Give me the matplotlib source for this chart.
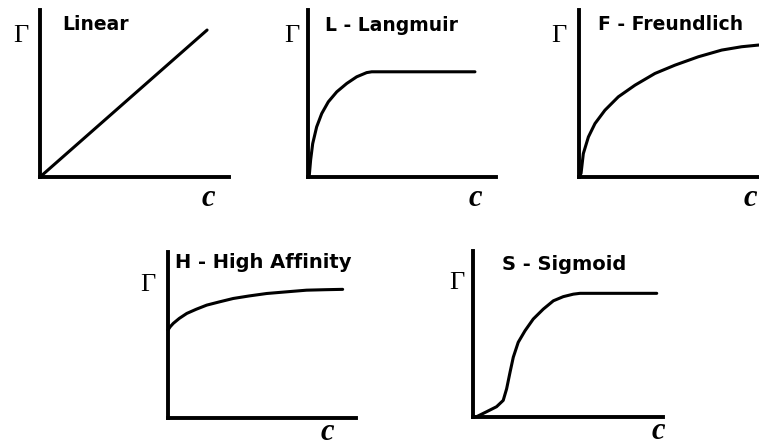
import matplotlib
matplotlib.use("Agg")
import matplotlib.pyplot as plt

# Isotherm shapes (c and Gamma in relative units 0..1)
linear_c = [0.0, 0.884]
linear_g = [0.0, 0.880]

langmuir_c = [0.0, 0.007, 0.014, 0.025, 0.046, 0.073, 0.108, 0.153, 0.206, 0.259, 0.312, 0.339, 0.888]
langmuir_g = [0.0, 0.012, 0.102, 0.20, 0.30, 0.38, 0.45, 0.51, 0.56, 0.60, 0.625, 0.63, 0.63]

freundlich_c = [0.0, 0.011, 0.023, 0.050, 0.085, 0.138, 0.209, 0.298, 0.404, 0.511, 0.635,
                0.759, 0.865, 0.954, 1.0]
freundlich_g = [0.0, 0.022, 0.14, 0.24, 0.32, 0.40, 0.48, 0.55, 0.62, 0.67, 0.72,
                0.76, 0.78, 0.79, 0.792]

high_c = [0.0, 0.012, 0.028, 0.060, 0.100, 0.150, 0.206, 0.275, 0.347, 0.430, 0.525, 0.630, 0.737, 0.840, 0.929]
high_g = [0.53, 0.55, 0.57, 0.60, 0.63, 0.655, 0.68, 0.70, 0.72, 0.735, 0.75, 0.76, 0.77, 0.773, 0.775]

sigmoid_c = [0.0, 0.019, 0.072, 0.124, 0.159, 0.177, 0.195, 0.212, 0.238, 0.274, 0.317,
             0.370, 0.423, 0.475, 0.528, 0.563, 0.967]
sigmoid_g = [0.0, 0.002, 0.032, 0.062, 0.10, 0.17, 0.27, 0.36, 0.45, 0.52, 0.59,
             0.65, 0.70, 0.725, 0.74, 0.745, 0.745]

titles = ["Linear", "L - Langmuir", "F - Freundlich", "H - High Affinity", "S - Sigmoid"]

W, H = 759, 448
fig = plt.figure(figsize=(W / 100, H / 100), dpi=100)
fig.patch.set_facecolor("white")

def add_panel(left, right, top, bottom):
    # pixel box -> figure fraction
    return fig.add_axes([left / W, (H - bottom) / H, (right - left) / W, (bottom - top) / H])

panels = [
    # (pixel box, data, title pos, gamma pos, c pos, title size)
    ((40, 229, 10, 177), (linear_c, linear_g), (0.116, 0.916), (-0.10, 0.844), (0.889, -0.13), 13.5),
    ((308, 496, 10, 177), (langmuir_c, langmuir_g), (0.09, 0.91), (-0.085, 0.844), (0.888, -0.13), 13.5),
    ((579, 767, 10, 177), (freundlich_c, freundlich_g), (0.10, 0.916), (-0.106, 0.844), (0.91, -0.13), 13.5),
    ((168, 356, 252, 418), (high_c, high_g), (0.037, 0.937), (-0.106, 0.80), (0.846, -0.085), 14),
    ((473, 663, 251, 417), (sigmoid_c, sigmoid_g), (0.153, 0.916), (-0.084, 0.81), (0.974, -0.085), 14),
]

for (box, (cx, gy), tpos, gpos, cpos, tsize), title in zip(panels, titles):
    ax = add_panel(*box)
    ax.plot(cx, gy, color="black", lw=2.2, solid_capstyle="round", solid_joinstyle="round",
            clip_on=False)
    ax.set_xlim(0, 1)
    ax.set_ylim(0, 1)
    for side in ["top", "right"]:
        ax.spines[side].set_visible(False)
    for side in ["left", "bottom"]:
        ax.spines[side].set_linewidth(2.8)
        ax.spines[side].set_color("black")
    ax.set_xticks([])
    ax.set_yticks([])
    ax.patch.set_alpha(0)
    ax.text(tpos[0], tpos[1], title, transform=ax.transAxes, ha="left", va="center",
            fontsize=tsize, fontweight="bold", family="DejaVu Sans")
    ax.text(gpos[0], gpos[1], "\u0393", transform=ax.transAxes, ha="center", va="center",
            fontsize=19, family="Liberation Serif")
    ax.text(cpos[0], cpos[1], "c", transform=ax.transAxes, ha="center", va="center",
            fontsize=22, fontweight="bold", fontstyle="italic", family="Liberation Serif")

fig.savefig("out.png", dpi=100, facecolor="white")
